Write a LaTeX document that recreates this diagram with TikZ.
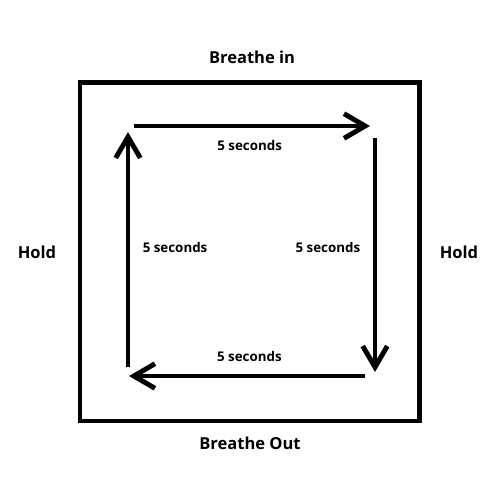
\documentclass[tikz,border=0pt]{standalone}
\usepackage{fontspec}
\setmainfont{Open Sans}
\usetikzlibrary{arrows.meta,positioning}

\begin{document}
\begin{tikzpicture}[x=0.02cm, y=-0.02cm, font=\bfseries,
        box/.style={line width=2.8pt},
        step arrow/.style={line width=2.8pt, -{Straight Barb[length=12pt, width=14pt]}},
        phase/.style={font=\fontsize{9.4}{11}\bfseries\selectfont},
        secs/.style={font=\fontsize{7.6}{9}\bfseries\selectfont, inner sep=0pt}]
        \useasboundingbox (0,0) rectangle (500,500);

        \draw[box] (80,82.5) rectangle (419.5,421);

        \coordinate (tl) at (134,126);
        \coordinate (tr) at (370,126);
        \coordinate (rt) at (375,138);
        \coordinate (rb) at (375,372);
        \coordinate (br) at (365,376);
        \coordinate (bl) at (129,376);
        \coordinate (lb) at (128,367);
        \coordinate (lt) at (128,132);

        \node[phase] (in) at (252,57) {Breathe in};
        \node[phase] (out) at (250,443) {Breathe Out};
        \node[phase] (holdl) at (37,252) {Hold};
        \node[phase] (holdr) at (459,252) {Hold};

        \draw[step arrow] (tl) -- (tr) node[secs, pos=0.49, below=7pt] (s1) {5 seconds};
        \draw[step arrow] (rt) -- (rb) node[secs, pos=0.47, left=7pt] (s2) {5 seconds};
        \draw[step arrow] (br) -- (bl) node[secs, pos=0.49, above=7pt] (s3) {5 seconds};
        \draw[step arrow] (lb) -- (lt) node[secs, pos=0.51, right=7pt] (s4) {5 seconds};
    \end{tikzpicture}
\end{document}
